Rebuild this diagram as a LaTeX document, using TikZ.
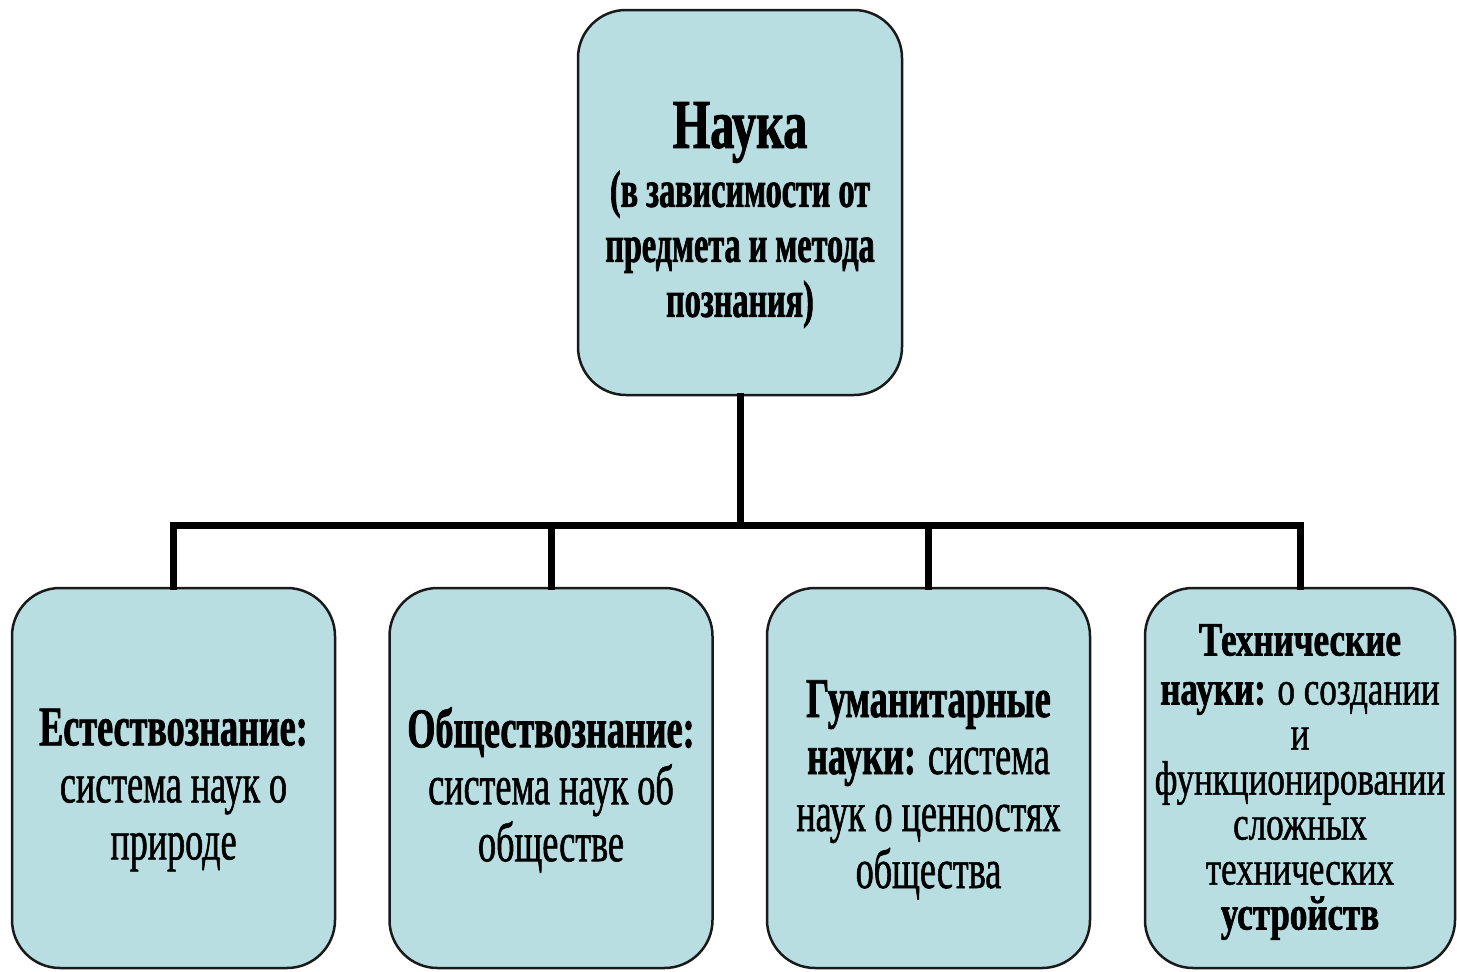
\documentclass[tikz,border=0pt]{standalone}
\usepackage{fontspec}
\usepackage{tikz}
\setmainfont{Liberation Serif}
\newfontfamily\condfont[FakeStretch=0.645,UprightFeatures={FakeBold=1.0},BoldFeatures={FakeBold=1.3}]{Liberation Serif}
\newfontfamily\topfont[FakeStretch=0.62,UprightFeatures={FakeBold=1.0},BoldFeatures={FakeBold=1.3}]{Liberation Serif}
\newfontfamily\techfont[FakeStretch=0.73,UprightFeatures={FakeBold=1.0},BoldFeatures={FakeBold=1.3}]{Liberation Serif}
\newfontfamily\titlefont[FakeStretch=0.69,BoldFeatures={FakeBold=1.3}]{Liberation Serif}
\definecolor{boxfill}{HTML}{B8DEE2}
\definecolor{boxline}{HTML}{1A1A1A}

\begin{document}
\begin{tikzpicture}[x=1pt,y=-1pt,
		box node/.style={draw=boxline,line width=2.5pt,fill=boxfill,rounded corners=48pt,
			inner sep=0pt,minimum width=323pt,minimum height=380pt},
		txt/.style={align=center,inner sep=0pt,font=\condfont\fontsize{56}{57}\selectfont},
		conn/.style={line width=7pt,line cap=rect}]
		\useasboundingbox (0,0) rectangle (1457,972);
		% boxes
		\node[box node,minimum width=324pt,minimum height=385pt] (0) at (740,202.5) {};
		\node[box node] (1) at (173.5,778) {};
		\node[box node] (2) at (551,778) {};
		\node[box node] (3) at (928.5,778) {};
		\node[box node,minimum width=310pt] (4) at (1300,778) {};
		% texts
		\node[txt,font=\topfont\fontsize{52}{55}\selectfont] (0t) at (740,215)
			{{\titlefont\bfseries\fontsize{70}{70}\selectfont Наука}\\[4pt]
			\bfseries (в зависимости от\\ \bfseries предмета и метода\\ \bfseries познания)};
		\node[txt] (1t) at (173.5,790) {\bfseries Естествознание:\\ система наук о\\ природе};
		\node[txt] (2t) at (551,790) {\bfseries Обществознание:\\ система наук об\\ обществе};
		\node[txt] (3t) at (928.5,790) {\bfseries Гуманитарные\\ \bfseries науки: \mdseries система\\ наук о ценностях\\ общества};
		\node[txt,font=\techfont\fontsize{48}{45}\selectfont] (4t) at (1300,782)
			{\bfseries Технические\\[4pt] \bfseries науки: \mdseries о создании\\ и\\ функционировании\\ сложных\\ технических\\ \bfseries устройств};
		% connectors
		\coordinate (bus) at (740,525);
		\draw[conn] (0.south) -- (bus);
		\draw[conn] (1.north) |- (bus) -| (4.north);
		\draw[conn] (2.north) -- (2.north |- bus);
		\draw[conn] (3.north) -- (3.north |- bus);
		\end{tikzpicture}
\end{document}
